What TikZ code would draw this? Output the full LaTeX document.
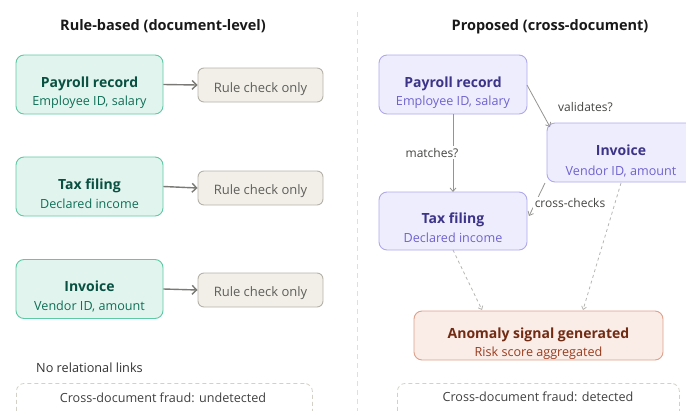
\documentclass[tikz,border=0pt]{standalone}
\usepackage{fontspec}
\setmainfont{Open Sans}
\usetikzlibrary{arrows.meta}
\definecolor{gfill}{HTML}{E1F5EE}
\definecolor{gdraw}{HTML}{5DCAA5}
\definecolor{gtitle}{HTML}{085041}
\definecolor{gsub}{HTML}{0F6E56}
\definecolor{rfill}{HTML}{F1EFE8}
\definecolor{rdraw}{HTML}{B4B2A9}
\definecolor{rtext}{HTML}{5F5E5A}
\definecolor{pfill}{HTML}{EEEDFE}
\definecolor{pdraw}{HTML}{AFA9EC}
\definecolor{ptitle}{HTML}{3C3489}
\definecolor{psub}{HTML}{6F62D0}
\definecolor{cfill}{HTML}{FAECE7}
\definecolor{cdraw}{HTML}{E0A08A}
\definecolor{ctitle}{HTML}{712B13}
\definecolor{csub}{HTML}{993C1D}
\definecolor{arr}{HTML}{7A7975}
\definecolor{lbl}{HTML}{444441}
\definecolor{dsh}{HTML}{D3D1C7}
\begin{document}
\begin{tikzpicture}[x=1pt,y=-1pt,
  box/.style={rounded corners=8pt, minimum width=147pt, minimum height=59pt, inner sep=0pt, line width=0.9pt},
  gbox/.style={box, fill=gfill, draw=gdraw},
  pbox/.style={box, fill=pfill, draw=pdraw},
  rbox/.style={rounded corners=6pt, minimum width=125pt, minimum height=34pt, inner sep=0pt, fill=rfill, draw=rdraw, line width=0.9pt},
  ttl/.style={anchor=base, inner sep=0pt, font=\fontsize{14}{16}\selectfont\bfseries},
  sub/.style={anchor=base, inner sep=0pt, font=\fontsize{12.6}{14}\selectfont},
  head/.style={anchor=base, inner sep=0pt, font=\fontsize{14.5}{17}\selectfont\bfseries, text=black!90},
  rtxt/.style={anchor=base, inner sep=0pt, font=\fontsize{13}{15}\selectfont, text=rtext},
  elbl/.style={anchor=base, inner sep=1.5pt, fill=white, font=\fontsize{12}{14}\selectfont, text=lbl},
  garrow/.style={draw=arr, line width=1.4pt, -{Straight Barb[length=4.5pt,width=9pt,line width=1.4pt]}},
  parrow/.style={draw=arr!80, line width=0.8pt, -{Straight Barb[length=3.5pt,width=6pt,line width=0.8pt]}},
  darrow/.style={draw=arr!55, line width=0.8pt, dash pattern=on 3pt off 3pt, -{Straight Barb[length=3pt,width=5pt,line width=0.8pt]}},
  dbox/.style={draw=dsh, line width=0.8pt, dash pattern=on 4pt off 3pt, rounded corners=8pt}
]
\useasboundingbox (0,0) rectangle (686,410);
\clip (0,0) rectangle (686,410);

% divider
\draw[draw=dsh!70, line width=0.8pt, dash pattern=on 5pt off 4pt] (357,12) -- (357,412);

% headings
\node[head] (hl) at (163,30) {Rule-based (document-level)};
\node[head] (hr) at (550,30) {Proposed (cross-document)};

% left column
\node[gbox] (pL) at (89.5,84.5) {};
\node[ttl, text=gtitle] (pLt) at (89.5,87) {Payroll record};
\node[sub, text=gsub] (pLs) at (89.5,105.5) {Employee ID, salary};

\node[gbox] (tL) at (89.5,186.5) {};
\node[ttl, text=gtitle] (tLt) at (89.5,189.3) {Tax filing};
\node[sub, text=gsub] (tLs) at (89.5,208) {Declared income};

\node[gbox] (iL) at (89.5,289) {};
\node[ttl, text=gtitle] (iLt) at (89.5,291.7) {Invoice};
\node[sub, text=gsub] (iLs) at (89.5,310) {Vendor ID, amount};

\node[rbox] (r1) at (260.5,85) {};
\node[rtxt] (r1t) at (260.5,92) {Rule check only};
\node[rbox] (r2) at (260.5,188) {};
\node[rtxt] (r2t) at (260.5,194.5) {Rule check only};
\node[rbox] (r3) at (260.5,290) {};
\node[rtxt] (r3t) at (260.5,296.8) {Rule check only};

\draw[garrow] (pL.east) -- (r1.west);
\draw[garrow] (tL.east) -- (r2.west);
\draw[garrow] (iL.east) -- (r3.west);

\node[anchor=base west, inner sep=0pt, font=\fontsize{12.7}{14}\selectfont, text=black!80] (nr) at (36,372.7) {No relational links};
\node[dbox, minimum width=296pt, minimum height=50pt, anchor=north west] (dl) at (16,383) {};
\node[anchor=base, inner sep=0pt, font=\fontsize{12.6}{14}\selectfont, text=black!75] (dlt) at (163,402.7) {Cross-document fraud: undetected};

% right column
\node[pbox, minimum width=148pt] (pR) at (453,84.5) {};
\node[ttl, text=ptitle] (pRt) at (453,87) {Payroll record};
\node[sub, text=psub] (pRs) at (453,105.5) {Employee ID, salary};

\node[pbox, minimum width=148pt] (iR) at (621,152.5) {};
\node[ttl, text=ptitle] (iRt) at (621,155.3) {Invoice};
\node[sub, text=psub] (iRs) at (621,175) {Vendor ID, amount};

\node[pbox, minimum width=148pt, minimum height=58pt] (tR) at (453,221) {};
\node[ttl, text=ptitle] (tRt) at (453,223.3) {Tax filing};
\node[sub, text=psub] (tRs) at (453,242.3) {Declared income};

\node[box, fill=cfill, draw=cdraw, minimum width=249pt, minimum height=49pt] (an) at (538.5,335.5) {};
\node[ttl, text=ctitle] (ant) at (538.5,338.3) {Anomaly signal generated};
\node[sub, text=csub] (ans) at (538.5,356.7) {Risk score aggregated};

\coordinate (pRb) at (453,114);
\coordinate (tRtop) at (453,192);
\coordinate (pRr) at (527,85);
\coordinate (iRl) at (550,127);
\coordinate (iRbl) at (545,183);
\coordinate (tRr) at (529,216);
\coordinate (tRb) at (453,250);
\coordinate (anl) at (482,310);
\coordinate (iRb) at (621,183);
\coordinate (anr) at (583,310);

\draw[parrow] (pRb) -- (tRtop);
\draw[parrow] (pRr) -- (iRl);
\draw[parrow] (iRbl) -- (tRr);
\draw[darrow] (tRb) -- (anl);
\draw[darrow] (iRb) -- (anr);

\node[elbl] (lm) at (432,157) {matches?};
\node[elbl] (lv) at (585.5,111.7) {validates?};
\node[elbl] (lc) at (570,207.7) {cross-checks};

\node[dbox, minimum width=282pt, minimum height=50pt, anchor=north west] (dr) at (397,383) {};
\node[anchor=base, inner sep=0pt, font=\fontsize{12.6}{14}\selectfont, text=black!75] (drt) at (538,401.7) {Cross-document fraud: detected};
\end{tikzpicture}
\end{document}
